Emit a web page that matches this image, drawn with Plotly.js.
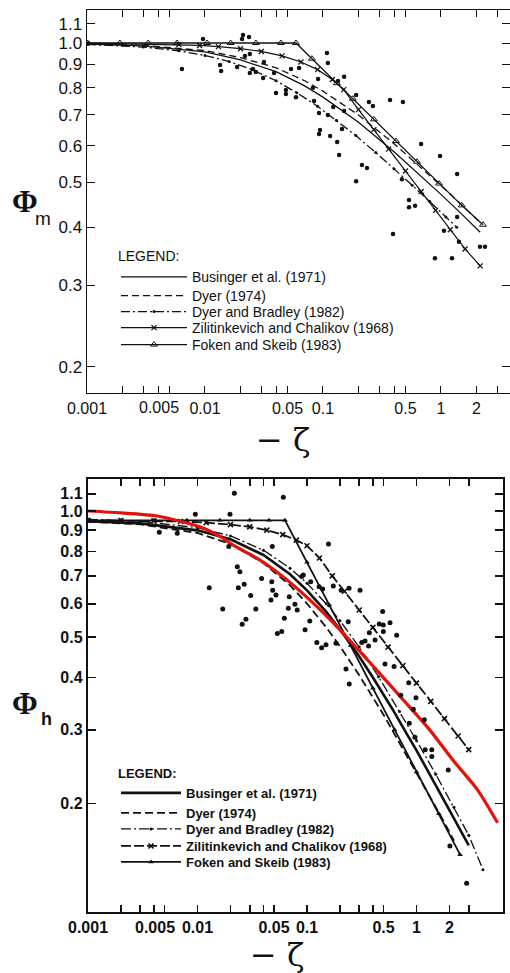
<!DOCTYPE html>
<html>
<head>
<meta charset="utf-8">
<script src="https://cdn.plot.ly/plotly-3.0.1.min.js"></script>
<style>html,body{margin:0;padding:0;background:#fff;}#chart{width:510px;height:973px;}</style>
</head>
<body>
<div id="chart"></div>
<script>
// ---------- shared ticks ----------
var xTickVals = [0.001,0.002,0.003,0.004,0.005,0.01,0.02,0.03,0.04,0.05,0.1,0.2,0.3,0.4,0.5,1,2,3];
// the "0.005" label sits left of its tick in the original, so it is drawn as an annotation below
var xTickText = ['0.001','','','','','0.01','','','','0.05','0.1','','','','0.5','1','2',''];
var offsetLabel = '0.005';
var offsetLabelValue = 0.005;
var yTickVals = [0.2,0.3,0.4,0.5,0.6,0.7,0.8,0.9,1.0,1.1];
var yTickText = ['0.2','0.3','0.4','0.5','0.6','0.7','0.8','0.9','1.0','1.1'];
var seriesNames = ['Businger et al. (1971)','Dyer (1974)','Dyer and Bradley (1982)','Zilitinkevich and Chalikov (1968)','Foken and Skeib (1983)'];

// ---------- top panel: Phi_m ----------
var mBusX = [0.001,0.003,0.01,0.02,0.04,0.07,0.1,0.2,0.4,0.7,1.0,1.5,2.15];
var mBusY = [0.995,0.986,0.957,0.919,0.867,0.808,0.764,0.674,0.582,0.512,0.471,0.427,0.390];
var mDyerX = [0.001,0.003,0.01,0.02,0.04,0.07,0.1,0.2,0.4,0.7,1.0,1.5,2.2];
var mDyerY = [0.996,0.988,0.963,0.930,0.884,0.829,0.787,0.699,0.606,0.535,0.492,0.447,0.407];
var mDBX = [0.001,0.003,0.006,0.01,0.016,0.025,0.04,0.06,0.09,0.13,0.19,0.28,0.4,0.57,0.8,1.1,1.36];
var mDBY = [0.993,0.980,0.962,0.940,0.912,0.876,0.829,0.781,0.730,0.681,0.631,0.580,0.535,0.493,0.455,0.421,0.400];
var mZCX = [0.001,0.006,0.009,0.013,0.02,0.03,0.045,0.065,0.09,0.12,0.15,0.2,0.27,0.36,0.5,0.68,0.9,1.2,1.6,2.15];
var mZCY = [0.999,0.992,0.988,0.982,0.972,0.959,0.938,0.910,0.876,0.834,0.793,0.718,0.650,0.590,0.529,0.478,0.435,0.395,0.359,0.330];
var mFSX = [0.001,0.0019,0.0033,0.0058,0.0104,0.0165,0.027,0.044,0.059,0.0806,0.131,0.179,0.27,0.416,0.625,0.962,1.5,2.27];
var mFSY = [1.0,1.0,1.0,1.0,1.0,1.0,1.0,1.0,1.0,0.925,0.819,0.758,0.684,0.614,0.554,0.497,0.446,0.405];
var mDotX = [0.00638,0.00962,0.0134,0.0137,0.0187,0.0206,0.0210,0.0236,0.0218,0.0240,0.0255,0.0240,0.0311,0.0270,0.0316,0.0385,0.0400,0.0485,0.0485,0.0536,0.0590,0.0627,0.108,0.110,0.0908,0.0822,0.0840,0.0925,0.0944,0.0925,0.115,0.132,0.137,0.110,0.122,0.151,0.134,0.145,0.151,0.191,0.245,0.265,0.370,0.476,0.214,0.236,0.191,0.678,0.982,1.37,0.392,0.536,0.536,0.603,0.467,0.889,1.24,2.14,2.36,1.37,1.42,1.06];
var mDotY = [0.879,1.020,0.896,0.870,0.888,1.020,1.041,1.030,0.937,0.947,0.879,0.861,0.840,0.866,0.910,0.861,0.780,0.792,0.776,0.879,0.764,0.883,0.951,0.905,0.836,0.800,0.749,0.706,0.649,0.636,0.630,0.611,0.573,0.699,0.727,0.845,0.828,0.652,0.713,0.772,0.746,0.731,0.753,0.746,0.545,0.537,0.503,0.605,0.570,0.521,0.387,0.458,0.442,0.445,0.508,0.343,0.343,0.363,0.363,0.421,0.372,0.393];

// ---------- bottom panel: Phi_h ----------
var hBusX = [0.001,0.003,0.01,0.02,0.04,0.07,0.1,0.15,0.2,0.3,0.4,0.6,0.8,1.0,1.5,2.0,3.0];
var hBusY = [0.945,0.934,0.899,0.856,0.785,0.706,0.646,0.574,0.521,0.449,0.400,0.337,0.296,0.268,0.221,0.193,0.159];
var hDyerX = [0.001,0.003,0.01,0.02,0.04,0.07,0.1,0.15,0.2,0.3,0.5,0.8,1.2,1.7,2.2];
var hDyerY = [0.943,0.929,0.886,0.834,0.751,0.664,0.601,0.527,0.475,0.405,0.326,0.263,0.218,0.185,0.163];
var hDBX = [0.001,0.003,0.01,0.02,0.04,0.07,0.1,0.15,0.2,0.3,0.45,0.7,1.0,1.5,2.2,3.0,4.05];
var hDBY = [0.955,0.945,0.912,0.872,0.806,0.730,0.672,0.600,0.547,0.473,0.402,0.332,0.283,0.235,0.196,0.168,0.139];
var hZCX = [0.001,0.002,0.004,0.007,0.012,0.02,0.03,0.043,0.06,0.08,0.1,0.13,0.17,0.22,0.3,0.4,0.55,0.75,1.0,1.35,1.8,2.4,3.0];
var hZCY = [0.950,0.949,0.947,0.944,0.938,0.928,0.916,0.900,0.878,0.852,0.826,0.772,0.700,0.643,0.580,0.527,0.473,0.427,0.388,0.351,0.319,0.290,0.269];
var hFSX = [0.001,0.002,0.004,0.008,0.016,0.03,0.045,0.063,0.1,0.16,0.25,0.4,0.63,1.0,1.6,2.5];
var hFSY = [0.950,0.950,0.950,0.950,0.950,0.950,0.950,0.950,0.754,0.596,0.477,0.377,0.300,0.238,0.189,0.151];
var hRedX = [0.001,0.002,0.0043,0.0105,0.016,0.021,0.037,0.06,0.106,0.2,0.377,0.755,1.32,2.15,3.6,5.5];
var hRedY = [1.0,0.99,0.973,0.917,0.87,0.83,0.764,0.697,0.613,0.52,0.434,0.354,0.300,0.254,0.216,0.180];
var hDotX = [0.00448,0.00654,0.00955,0.0128,0.0170,0.0198,0.0217,0.0231,0.0244,0.0236,0.0267,0.0256,0.0277,0.0306,0.0341,0.0193,0.0608,0.157,0.0482,0.0385,0.0477,0.0486,0.0469,0.0521,0.0689,0.0621,0.0536,0.0588,0.0776,0.0814,0.0675,0.0895,0.0925,0.108,0.0960,0.106,0.123,0.136,0.149,0.129,0.139,0.174,0.205,0.242,0.305,0.238,0.184,0.316,0.339,0.371,0.365,0.227,0.243,0.418,0.491,0.457,0.498,0.573,0.498,0.659,0.515,0.624,0.849,0.718,0.989,0.935,1.18,0.859,0.968,1.20,1.38,1.38,1.95,2.02,2.87];
var hDotY = [0.889,0.885,0.982,0.656,0.583,0.982,1.102,0.736,0.716,0.656,0.668,0.536,0.551,0.628,0.583,0.822,1.078,0.834,0.822,0.690,0.678,0.647,0.613,0.630,0.624,0.554,0.510,0.515,0.599,0.580,0.586,0.697,0.703,0.678,0.520,0.546,0.485,0.471,0.479,0.659,0.651,0.662,0.647,0.654,0.647,0.544,0.483,0.485,0.489,0.512,0.476,0.419,0.386,0.492,0.575,0.537,0.534,0.541,0.515,0.505,0.431,0.425,0.389,0.363,0.358,0.336,0.317,0.311,0.288,0.269,0.269,0.259,0.2405,0.1584,0.129];

var K = '#111111';
function line(x, y, name, xa, ya, leg, ln, mk, show) {
  var t = {x: x, y: y, name: name, xaxis: xa, yaxis: ya, legend: leg, type: 'scatter',
           mode: mk ? 'lines+markers' : 'lines', line: ln, showlegend: show !== false, hoverinfo: 'skip'};
  if (mk) { t.marker = mk; }
  return t;
}
var traces = [
  line(mBusX, mBusY, seriesNames[0], 'x', 'y', 'legend', {color: K, width: 1.3}),
  line(mDyerX, mDyerY, seriesNames[1], 'x', 'y', 'legend2', {color: K, width: 1.3, dash: '7px,4px'}),
  line(mDBX, mDBY, seriesNames[2], 'x', 'y', 'legend3', {color: K, width: 1.3, dash: '9px,3px,2px,3px'}, {symbol: 'circle', size: 3, color: K}),
  line(mZCX, mZCY, seriesNames[3], 'x', 'y', 'legend4', {color: K, width: 1.2}, {symbol: 'x-thin-open', size: 5, color: K, line: {color: K, width: 1.3}}),
  line(mFSX, mFSY, seriesNames[4], 'x', 'y', 'legend5', {color: K, width: 1.3}, {symbol: 'triangle-up-open', size: 6, color: K, line: {color: K, width: 1}}),
  {x: mDotX, y: mDotY, xaxis: 'x', yaxis: 'y', type: 'scatter', mode: 'markers', showlegend: false, hoverinfo: 'skip',
   marker: {symbol: 'circle', size: 4.5, color: K}},

  line(hBusX, hBusY, seriesNames[0], 'x2', 'y2', 'legend6', {color: K, width: 2.6}),
  line(hDyerX, hDyerY, seriesNames[1], 'x2', 'y2', 'legend7', {color: K, width: 1.8, dash: '8px,4px'}),
  line(hDBX, hDBY, seriesNames[2], 'x2', 'y2', 'legend8', {color: K, width: 1.3, dash: '10px,3px,2px,3px'}, {symbol: 'circle', size: 3, color: K}),
  line(hZCX, hZCY, seriesNames[3], 'x2', 'y2', 'legend9', {color: K, width: 1.8, dash: '10px,3px'}, {symbol: 'x-thin-open', size: 5, color: K, line: {color: K, width: 1.6}}),
  line(hFSX, hFSY, seriesNames[4], 'x2', 'y2', 'legend10', {color: K, width: 1.8}, {symbol: 'triangle-up', size: 5, color: K}),
  line(hRedX, hRedY, 'red', 'x2', 'y2', 'legend6', {color: '#e3120b', width: 3.2, shape: 'spline', smoothing: 0.6}, null, false),
  {x: hDotX, y: hDotY, xaxis: 'x2', yaxis: 'y2', type: 'scatter', mode: 'markers', showlegend: false, hoverinfo: 'skip',
   marker: {symbol: 'circle', size: 5, color: K}}
];

function P(px) { return px / 510; }
function Q(py) { return 1 - py / 973; }
var FAM = 'Liberation Sans, Arial, sans-serif';
var regFont = {family: FAM, size: 16, color: K};
var regFontY = {family: FAM, size: 17, color: K};
var boldFont = {family: FAM, size: 16, color: K, weight: 'bold'};

function xax(dom, rng, anchor, font, lw, tw) {
  return {type: 'log', domain: dom, range: rng, anchor: anchor, showgrid: false, zeroline: false,
          showline: true, linecolor: K, linewidth: lw, mirror: 'ticks', ticks: 'inside', ticklen: 7,
          tickwidth: tw, tickcolor: K, tickmode: 'array', tickvals: xTickVals, ticktext: xTickText,
          tickangle: 0, tickfont: font, fixedrange: true};
}
function yax(dom, rng, anchor, font, lw, tw) {
  return {type: 'log', domain: dom, range: rng, anchor: anchor, showgrid: false, zeroline: false,
          showline: true, linecolor: K, linewidth: lw, mirror: 'ticks', ticks: 'inside', ticklen: 8,
          tickwidth: tw, tickcolor: K, tickmode: 'array', tickvals: yTickVals, ticktext: yTickText,
          tickfont: font, fixedrange: true};
}
function leg(px, py, w, font, title) {
  var l = {x: P(px), y: Q(py), xanchor: 'left', yanchor: 'top', bgcolor: 'rgba(0,0,0,0)',
           itemwidth: w, font: font};
  if (title) { l.title = {text: title, font: font}; }
  return l;
}
var legTop = {family: FAM, size: 14, color: K};
var legBot = {family: FAM, size: 13, color: K, weight: 'bold'};

var layout = {
  width: 510, height: 973, margin: {l: 0, r: 0, t: 0, b: 0},
  paper_bgcolor: '#fff', plot_bgcolor: '#fff', showlegend: true,
  xaxis: xax([P(87), 1], [-3, 0.585], 'y', regFont, 1.4, 1),
  yaxis: yax([Q(393), Q(10)], [-0.756, 0.0713], 'x', regFontY, 1.4, 1),
  xaxis2: xax([P(88), P(503)], [-3, 0.79], 'y2', boldFont, 2.2, 1.8),
  yaxis2: yax([Q(912), Q(479)], [-0.958, 0.0764], 'x2', boldFont, 2.2, 1.8),
  legend: leg(116, 243, 66, legTop, 'LEGEND:'),
  legend2: leg(116, 280, 66, legTop),
  legend3: leg(116, 296, 66, legTop),
  legend4: leg(116, 312, 66, legTop),
  legend5: leg(116, 329, 66, legTop),
  legend6: leg(116, 761, 60, legBot, 'LEGEND:'),
  legend7: leg(116, 798, 60, legBot),
  legend8: leg(116, 814, 60, legBot),
  legend9: leg(116, 831, 60, legBot),
  legend10: leg(116, 847, 60, legBot),
  annotations: [
    {xref: 'x', yref: 'paper', x: Math.log10(offsetLabelValue), y: Q(408), text: offsetLabel, showarrow: false,
     xanchor: 'right', yanchor: 'middle', xshift: 12, font: regFont},
    {xref: 'x2', yref: 'paper', x: Math.log10(offsetLabelValue), y: Q(927), text: offsetLabel, showarrow: false,
     xanchor: 'right', yanchor: 'middle', xshift: 12, font: boldFont},
    {xref: 'paper', yref: 'paper', x: P(25), y: Q(202), text: 'Φ', showarrow: false, xanchor: 'center', yanchor: 'middle',
     font: {family: 'Liberation Serif, Times New Roman, serif', size: 31, color: K, weight: 'bold'}},
    {xref: 'paper', yref: 'paper', x: P(33), y: Q(218), text: 'm', showarrow: false, xanchor: 'left', yanchor: 'middle',
     font: {family: FAM, size: 19, color: K}},
    {xref: 'paper', yref: 'paper', x: P(283), y: Q(440), text: '− ζ', showarrow: false, xanchor: 'center', yanchor: 'middle',
     font: {family: 'DejaVu Serif, serif', size: 32, color: K}},
    {xref: 'paper', yref: 'paper', x: P(25), y: Q(703), text: 'Φ', showarrow: false, xanchor: 'center', yanchor: 'middle',
     font: {family: 'Liberation Serif, Times New Roman, serif', size: 31, color: K, weight: 'bold'}},
    {xref: 'paper', yref: 'paper', x: P(39), y: Q(719), text: 'h', showarrow: false, xanchor: 'left', yanchor: 'middle',
     font: {family: FAM, size: 18, color: K, weight: 'bold'}},
    {xref: 'paper', yref: 'paper', x: P(277), y: Q(955), text: '− ζ', showarrow: false, xanchor: 'center', yanchor: 'middle',
     font: {family: 'DejaVu Serif, serif', size: 32, color: K}}
  ]
};

Plotly.newPlot('chart', traces, layout, {staticPlot: true, displayModeBar: false});
</script>
</body>
</html>
